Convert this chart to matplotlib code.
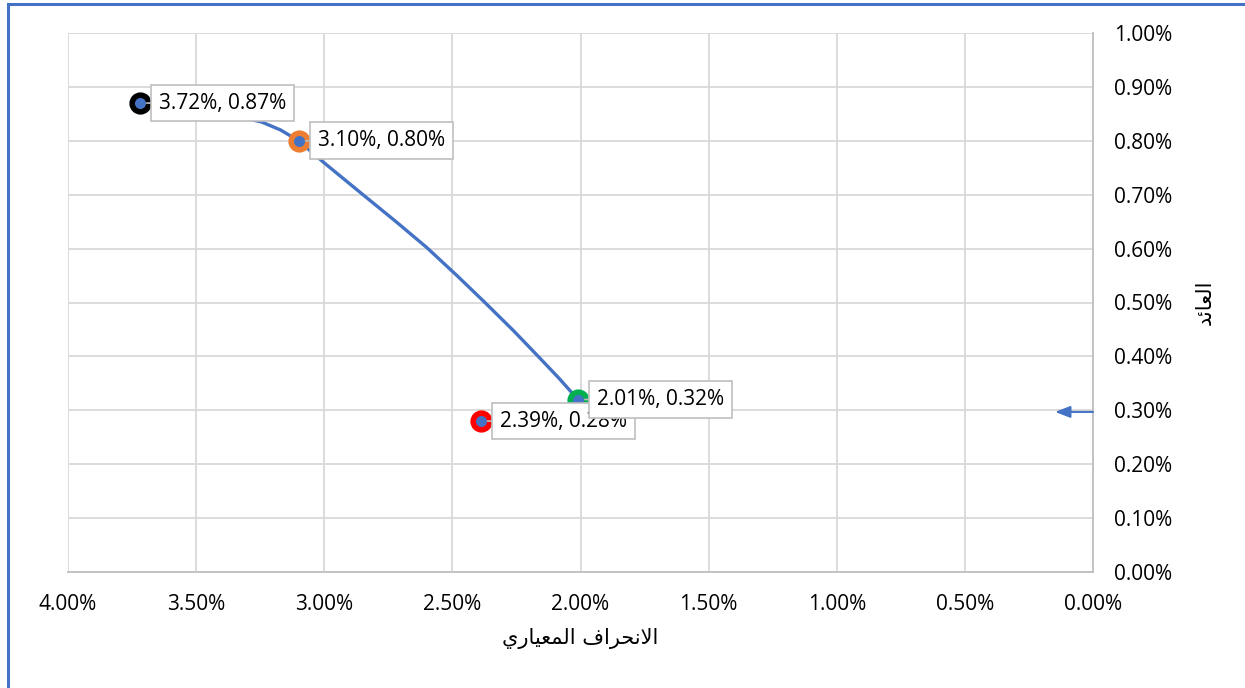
import matplotlib.pyplot as plt
from matplotlib.ticker import FuncFormatter, MultipleLocator
from matplotlib.lines import Line2D

plt.rcParams['font.family'] = ['Open Sans', 'DejaVu Sans']

# efficient frontier (percent)
frontier_sd = [3.72, 3.56, 3.40, 3.245, 3.17, 3.10, 3.00, 2.854, 2.72, 2.60,
               2.48, 2.373, 2.26, 2.165, 2.085, 2.01]
frontier_ret = [0.870, 0.862, 0.851, 0.835, 0.820, 0.800, 0.759, 0.702, 0.650, 0.602,
                0.549, 0.500, 0.447, 0.400, 0.360, 0.320]

# labelled points
point_sd = [3.72, 3.10, 2.39, 2.01]
point_ret = [0.87, 0.80, 0.28, 0.32]
point_colors = ['#000000', '#ED7D31', '#FF0000', '#00B050']

arrow_sd = 0.148
arrow_ret = 0.297

# Arabic titles, shaped by hand (presentation forms, visual order)
x_title = '\uFE8D\uFEFB\uFEE7\uFEA4\uFEAE\uFE8D\uFED1 \uFE8D\uFEDF\uFEE4\uFECC\uFEF4\uFE8E\uFEAD\uFEF1'
y_title = '\uFE8D\uFEDF\uFECC\uFE8E\uFE8B\uFEAA'
x_title = x_title[::-1]
y_title = y_title[::-1]

blue = '#4472C4'

fig = plt.figure(figsize=(12.45, 6.88), dpi=100)
ax = fig.add_axes([68 / 1245, 1 - 572 / 688, (1093 - 68) / 1245, (572 - 33) / 688])

ax.set_xlim(4.0, 0.0)
ax.set_ylim(0.0, 1.0)
ax.xaxis.set_major_locator(MultipleLocator(0.5))
ax.yaxis.set_major_locator(MultipleLocator(0.1))
ax.xaxis.set_major_formatter(FuncFormatter(lambda v, p: f'{v:.2f}%'))
ax.yaxis.set_major_formatter(FuncFormatter(lambda v, p: f'{v:.2f}%'))
ax.yaxis.tick_right()
ax.yaxis.set_label_position('right')
ax.tick_params(length=0, labelsize=15, colors='#000000')
ax.tick_params(axis='x', pad=16)
ax.tick_params(axis='y', pad=15)
ax.grid(True, color='#D9D9D9', linewidth=1.3)
ax.set_axisbelow(True)
for side in ['top', 'left']:
    ax.spines[side].set_visible(False)
ax.spines['bottom'].set_color('#BFBFBF')
ax.spines['right'].set_color('#BFBFBF')
ax.spines['bottom'].set_linewidth(1.3)
ax.spines['right'].set_linewidth(1.3)

ax.plot(frontier_sd, frontier_ret, color=blue, linewidth=2.4, zorder=3,
        solid_joinstyle='round')

for sd, ret, c in zip(point_sd, point_ret, point_colors):
    ax.plot(sd, ret, 'o', markersize=12, markerfacecolor=blue,
            markeredgecolor=c, markeredgewidth=4, zorder=4)

for i in [0, 1, 2, 3]:
    sd, ret = point_sd[i], point_ret[i]
    ax.annotate(f'{sd:.2f}%, {ret:.2f}%', xy=(sd, ret), xytext=(14, 0),
                textcoords='offset points', ha='left', va='center', fontsize=15,
                bbox=dict(boxstyle='square,pad=0.38', fc='white', ec='#BFBFBF', lw=1.2),
                arrowprops=dict(arrowstyle='-', color='#BFBFBF', lw=1.2,
                                shrinkA=0, shrinkB=5),
                zorder=5)

ax.annotate('', xy=(arrow_sd, arrow_ret), xytext=(0.0, arrow_ret),
            arrowprops=dict(arrowstyle='-|>,head_length=0.9,head_width=0.35',
                            color=blue, lw=1.5, shrinkA=0, shrinkB=0),
            annotation_clip=False, zorder=5)

ax.set_xlabel(x_title, fontsize=15, family=['DejaVu Sans'], labelpad=9)
ax.set_ylabel(y_title, fontsize=15, family=['DejaVu Sans'], labelpad=16)

# chart frame
fig.add_artist(Line2D([8 / 1245, 8 / 1245], [0, 1 - 4 / 688], color=blue, lw=2.2))
fig.add_artist(Line2D([8 / 1245, 1], [1 - 4 / 688, 1 - 4 / 688], color=blue, lw=2.2))

fig.savefig('out.png', dpi=100)
